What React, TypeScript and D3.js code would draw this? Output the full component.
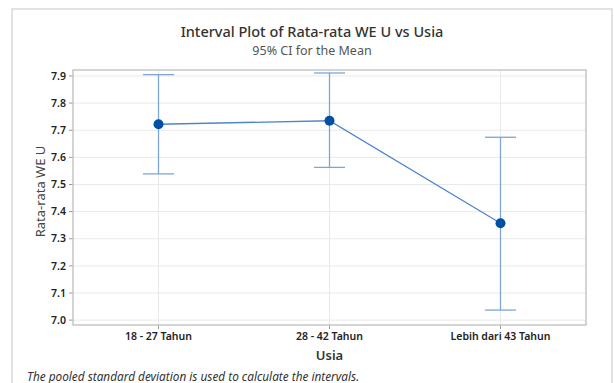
import React from 'react';
import * as d3 from 'd3';

// values
const groups = ['18 - 27 Tahun', '28 - 42 Tahun', 'Lebih dari 43 Tahun'];
const means = [7.722, 7.735, 7.357];
const lowers = [7.539, 7.563, 7.037];
const uppers = [7.905, 7.911, 7.674];
const yTicks = [7.0, 7.1, 7.2, 7.3, 7.4, 7.5, 7.6, 7.7, 7.8, 7.9];

const W = 614, H = 383;
const margin = { top: 70, right: 28, bottom: 58, left: 73 };
const font = "'Noto Sans', 'Open Sans', sans-serif";

const App = () => {
    const iw = W - margin.left - margin.right;
    const ih = H - margin.top - margin.bottom;

    const x = d3.scalePoint<string>().domain(groups).range([0, iw]).padding(0.5);
    const y = d3.scaleLinear().domain([6.982, 7.922]).range([ih, 0]);

    const line = d3.line<number>()
        .x((_, i) => x(groups[i]) as number)
        .y(d => y(d));

    const cap = 15.5;

    return (
        <svg width={W} height={H} style={{ position: 'absolute', left: 0, top: 0, background: '#fff' }}>
            <rect x={12} y={9} width={600} height={400} fill="#fff" stroke="#d9d9d9" strokeWidth={1.5} />
            <text x={312} y={37} textAnchor="middle" fontFamily={font} fontSize={14.5} fill="#333" fontWeight={500}>
                Interval Plot of Rata-rata WE U vs Usia
            </text>
            <text x={312} y={55} textAnchor="middle" fontFamily={font} fontSize={12.5} fill="#555">
                95% CI for the Mean
            </text>
            <g transform={`translate(${margin.left},${margin.top})`}>
                {yTicks.map(t => (
                    <g key={t}>
                        <line x1={0} x2={iw} y1={y(t)} y2={y(t)} stroke="#e9e9e9" />
                        <line x1={-4} x2={0} y1={y(t)} y2={y(t)} stroke="#999" />
                        <text x={-7} y={y(t)} dy="0.35em" textAnchor="end" fontFamily={font} fontSize={10.5} fontWeight={600} fill="#222">
                            {t.toFixed(1)}
                        </text>
                    </g>
                ))}
                {groups.map(g => (
                    <g key={g}>
                        <line x1={x(g)} x2={x(g)} y1={0} y2={ih} stroke="#e9e9e9" />
                        <line x1={x(g)} x2={x(g)} y1={ih} y2={ih + 4} stroke="#999" />
                        <text x={x(g)} y={ih + 15} textAnchor="middle" fontFamily={font} fontSize={10.5} fontWeight={600} fill="#222">
                            {g}
                        </text>
                    </g>
                ))}
                <rect x={0} y={0} width={iw} height={ih} fill="none" stroke="#c6c6c6" strokeWidth={1.5} />
                {groups.map((g, i) => {
                    const cx = x(g) as number;
                    return (
                        <g key={g} stroke="#7ea5d6" strokeWidth={1.3}>
                            <line x1={cx} x2={cx} y1={y(uppers[i])} y2={y(lowers[i])} />
                            <line x1={cx - cap} x2={cx + cap} y1={y(uppers[i])} y2={y(uppers[i])} />
                            <line x1={cx - cap} x2={cx + cap} y1={y(lowers[i])} y2={y(lowers[i])} />
                        </g>
                    );
                })}
                <path d={line(means) || ''} fill="none" stroke="#4f86c6" strokeWidth={1.3} />
                {groups.map((g, i) => (
                    <circle key={g} cx={x(g)} cy={y(means[i])} r={5} fill="#0051a5" />
                ))}
                <text x={iw / 2} y={ih + 35} textAnchor="middle" fontFamily={font} fontSize={13} fontWeight={600} fill="#333">
                    Usia
                </text>
                <text transform={`translate(-28,${ih / 2 - 6}) rotate(-90)`} textAnchor="middle" fontFamily={font} fontSize={13} fill="#444">
                    Rata-rata WE U
                </text>
            </g>
            <text x={27} y={381} fontFamily={font} fontSize={11.8} fontStyle="italic" fill="#333">
                The pooled standard deviation is used to calculate the intervals.
            </text>
        </svg>
    );
};

export default App;
